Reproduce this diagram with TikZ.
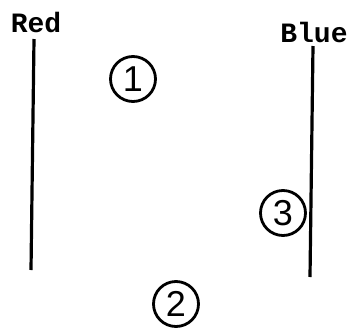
\documentclass[tikz,border=0pt]{standalone}
\usepackage{fontspec}
\newfontfamily\labelfont{Liberation Mono}
\newfontfamily\digitfont{Liberation Sans}
\usetikzlibrary{positioning}

\begin{document}
\begin{tikzpicture}[
    x=1pt, y=-1pt,
    side/.style={
        font=\labelfont\bfseries\fontsize{28}{28}\selectfont,
        inner sep=0pt
    },
    num/.style={
        circle,draw,line width=2.8pt,
        minimum size=45pt,
        inner sep=0pt,
        font=\digitfont\fontsize{36}{36}\selectfont
    },
    wall/.style={line width=3.2pt}
]
\useasboundingbox (0,0) rectangle (351,330);

\node[side, anchor=base] (red) at (36,32) {Red};
\node[side, anchor=base] (blue) at (314,42) {Blue};

\coordinate (redtop) at (34,39);
\coordinate (redbot) at (31,270);
\coordinate (bluetop) at (313,46);
\coordinate (bluebot) at (310,277);

\node[num] (one) at (133,79) {1};
\node[num] (three) at (283,213) {3};
\node[num] (two) at (176,304) {2};

\draw[wall] (redtop) -- (redbot);
\draw[wall] (bluetop) -- (bluebot);
\end{tikzpicture}
\end{document}
